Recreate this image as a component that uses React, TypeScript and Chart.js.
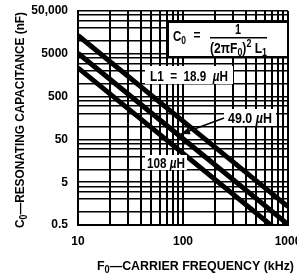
import React, { useEffect, useRef } from 'react';
import { Chart, registerables } from 'chart.js';

Chart.register(...registerables);

const freqKHz = [10, 100, 1000];
const cap189uH = [13400, 134, 1.34];
const cap490uH = [5170, 51.7, 0.517];
const cap108uH = [2350, 23.5, 0.235];

const xGridValues = [10, 20, 30, 40, 50, 60, 70, 80, 90, 100, 200, 300, 400, 500, 600, 700, 800, 900, 1000];
const yGridValues = [0.5, 1, 2, 3, 4, 5, 10, 20, 30, 40, 50, 100, 200, 300, 400, 500, 1000, 2000, 3000, 4000, 5000, 10000, 20000, 30000, 40000, 50000];
const xLabelValues = [10, 100, 1000];
const xTickLabels = ['10', '100', '1000'];
const yLabelValues = [0.5, 5, 50, 500, 5000, 50000];
const yTickLabels = ['0.5', '5', '50', '500', '5000', '50,000'];

const FAMILY = "'Liberation Sans', Arial, sans-serif";

type Seg = { t: string; sub?: boolean; sup?: boolean; italic?: boolean };

// draws rich text whose total width is compressed to `width` (condensed look)
function drawRich(ctx: CanvasRenderingContext2D, segs: Seg[], x: number, y: number, size: number, align: 'left' | 'center', width?: number) {
  const fontFor = (s: Seg) => `${s.italic ? 'italic ' : ''}bold ${s.sub || s.sup ? Math.round(size * 0.72) : size}px ${FAMILY}`;
  let total = 0;
  for (const s of segs) {
    ctx.font = fontFor(s);
    total += ctx.measureText(s.t).width;
  }
  const sx = width ? width / total : 1;
  const w = total * sx;
  const left = align === 'center' ? x - w / 2 : x;
  ctx.save();
  ctx.translate(left, y);
  ctx.scale(sx, 1);
  ctx.textAlign = 'left';
  ctx.textBaseline = 'alphabetic';
  ctx.fillStyle = '#000';
  let cx = 0;
  for (const s of segs) {
    ctx.font = fontFor(s);
    const dy = s.sub ? size * 0.22 : s.sup ? -size * 0.4 : 0;
    ctx.fillText(s.t, cx, dy);
    cx += ctx.measureText(s.t).width;
  }
  ctx.restore();
}

const annotations = {
  id: 'annotations',
  afterDraw(chart: any) {
    const ctx: CanvasRenderingContext2D = chart.ctx;
    ctx.save();
    // axis titles
    drawRich(ctx, [{ t: 'F' }, { t: '0', sub: true }, { t: '—CARRIER FREQUENCY (kHz)' }], 195.5, 270, 13.5, 'center', 197);
    ctx.save();
    ctx.translate(24, 120);
    ctx.rotate(-Math.PI / 2);
    drawRich(ctx, [{ t: 'C' }, { t: '0', sub: true }, { t: '—RESONATING CAPACITANCE (nF)' }], 0, 0, 13.5, 'center', 216);
    ctx.restore();

    // formula box
    ctx.fillStyle = '#fff';
    ctx.fillRect(168, 22, 120, 35);
    ctx.strokeStyle = '#000';
    ctx.lineWidth = 2;
    ctx.strokeRect(168, 22, 120, 35);
    drawRich(ctx, [{ t: 'C' }, { t: '0', sub: true }], 173, 41, 15, 'left', 13);
    drawRich(ctx, [{ t: '=' }], 197, 40, 15, 'center', 7);
    drawRich(ctx, [{ t: '1' }], 238, 34, 15, 'center', 6);
    ctx.fillStyle = '#000';
    ctx.fillRect(210, 37, 57, 1.5);
    drawRich(ctx, [{ t: '(2πF' }, { t: '0', sub: true }, { t: ')' }, { t: '2', sup: true }, { t: ' L' }, { t: '1', sub: true }], 238.5, 53, 15, 'center', 57);

    // L1 label
    ctx.fillStyle = '#fff';
    ctx.fillRect(145, 66, 88, 18);
    drawRich(ctx, [{ t: 'L1  =  18.9  ' }, { t: 'µ', italic: true }, { t: 'H' }], 150, 80.5, 15, 'left', 78);

    // 49.0 label
    ctx.fillStyle = '#fff';
    ctx.fillRect(224, 109, 52, 17);
    drawRich(ctx, [{ t: '49.0 ' }, { t: 'µ', italic: true }, { t: 'H' }], 228, 122.5, 15, 'left', 44);

    // arrow
    const x1 = 224, y1 = 118, x2 = 181, y2 = 134;
    ctx.strokeStyle = '#000';
    ctx.lineWidth = 1.5;
    ctx.beginPath();
    ctx.moveTo(x1, y1);
    ctx.lineTo(x2, y2);
    ctx.stroke();
    const ang = Math.atan2(y2 - y1, x2 - x1);
    ctx.fillStyle = '#000';
    ctx.beginPath();
    ctx.moveTo(x2, y2);
    ctx.lineTo(x2 - 9 * Math.cos(ang) + 3.5 * Math.sin(ang), y2 - 9 * Math.sin(ang) - 3.5 * Math.cos(ang));
    ctx.lineTo(x2 - 9 * Math.cos(ang) - 3.5 * Math.sin(ang), y2 - 9 * Math.sin(ang) + 3.5 * Math.cos(ang));
    ctx.closePath();
    ctx.fill();

    // 108 label
    ctx.fillStyle = '#fff';
    ctx.fillRect(145, 155, 42, 15);
    drawRich(ctx, [{ t: '108 ' }, { t: 'µ', italic: true }, { t: 'H' }], 147, 167.5, 15, 'left', 38);
    ctx.restore();
  },
};

export default function App() {
  const ref = useRef<HTMLCanvasElement>(null);
  useEffect(() => {
    if (!ref.current) return;
    const mk = (vals: number[]) => freqKHz.map((f, i) => ({ x: f, y: vals[i] }));
    const lineDs = (label: string, vals: number[]) => ({
      label,
      data: mk(vals),
      borderColor: '#000',
      backgroundColor: '#000',
      borderWidth: 5,
      pointRadius: 0,
      tension: 0,
    });
    const tickFont = { family: FAMILY, size: 12, weight: 'bold' as const };
    const chart = new Chart(ref.current, {
      type: 'line',
      data: {
        datasets: [lineDs('18.9 µH', cap189uH), lineDs('49.0 µH', cap490uH), lineDs('108 µH', cap108uH)],
      },
      options: {
        animation: false,
        responsive: false,
        layout: { padding: { top: 11, right: 9, left: 0, bottom: 0 } },
        plugins: { legend: { display: false }, tooltip: { enabled: false } },
        scales: {
          x: {
            type: 'logarithmic',
            min: 10,
            max: 1000,
            afterBuildTicks: (scale: any) => {
              scale.ticks = xGridValues.map((v) => ({ value: v }));
            },
            afterFit: (scale: any) => {
              scale.height = 51;
              scale.paddingLeft = 0;
              scale.paddingRight = 0;
            },
            ticks: {
              autoSkip: false,
              maxRotation: 0,
              minRotation: 0,
              padding: 9,
              color: '#000',
              font: tickFont,
              callback: (value: any) => {
                const i = xLabelValues.indexOf(Number(value));
                return i >= 0 ? xTickLabels[i] : '';
              },
            },
            grid: { color: '#000', lineWidth: 2, drawTicks: false },
            border: { color: '#000', width: 2 },
          },
          y: {
            type: 'logarithmic',
            min: 0.5,
            max: 50000,
            afterBuildTicks: (scale: any) => {
              scale.ticks = yGridValues.map((v) => ({ value: v }));
            },
            afterFit: (scale: any) => {
              scale.width = 78;
              scale.paddingTop = 0;
              scale.paddingBottom = 0;
            },
            ticks: {
              autoSkip: false,
              padding: 10,
              color: '#000',
              font: tickFont,
              callback: (value: any) => {
                const i = yLabelValues.indexOf(Number(value));
                return i >= 0 ? yTickLabels[i] : '';
              },
            },
            grid: { color: '#000', lineWidth: 1.5, drawTicks: false },
            border: { color: '#000', width: 2 },
          },
        },
      },
      plugins: [annotations],
    } as any);
    return () => chart.destroy();
  }, []);
  return (
    <div style={{ position: 'fixed', left: 0, top: 0, width: 297, height: 276, background: '#fff' }}>
      <canvas ref={ref} width={297} height={276} style={{ display: 'block', width: 297, height: 276 }} />
    </div>
  );
}
